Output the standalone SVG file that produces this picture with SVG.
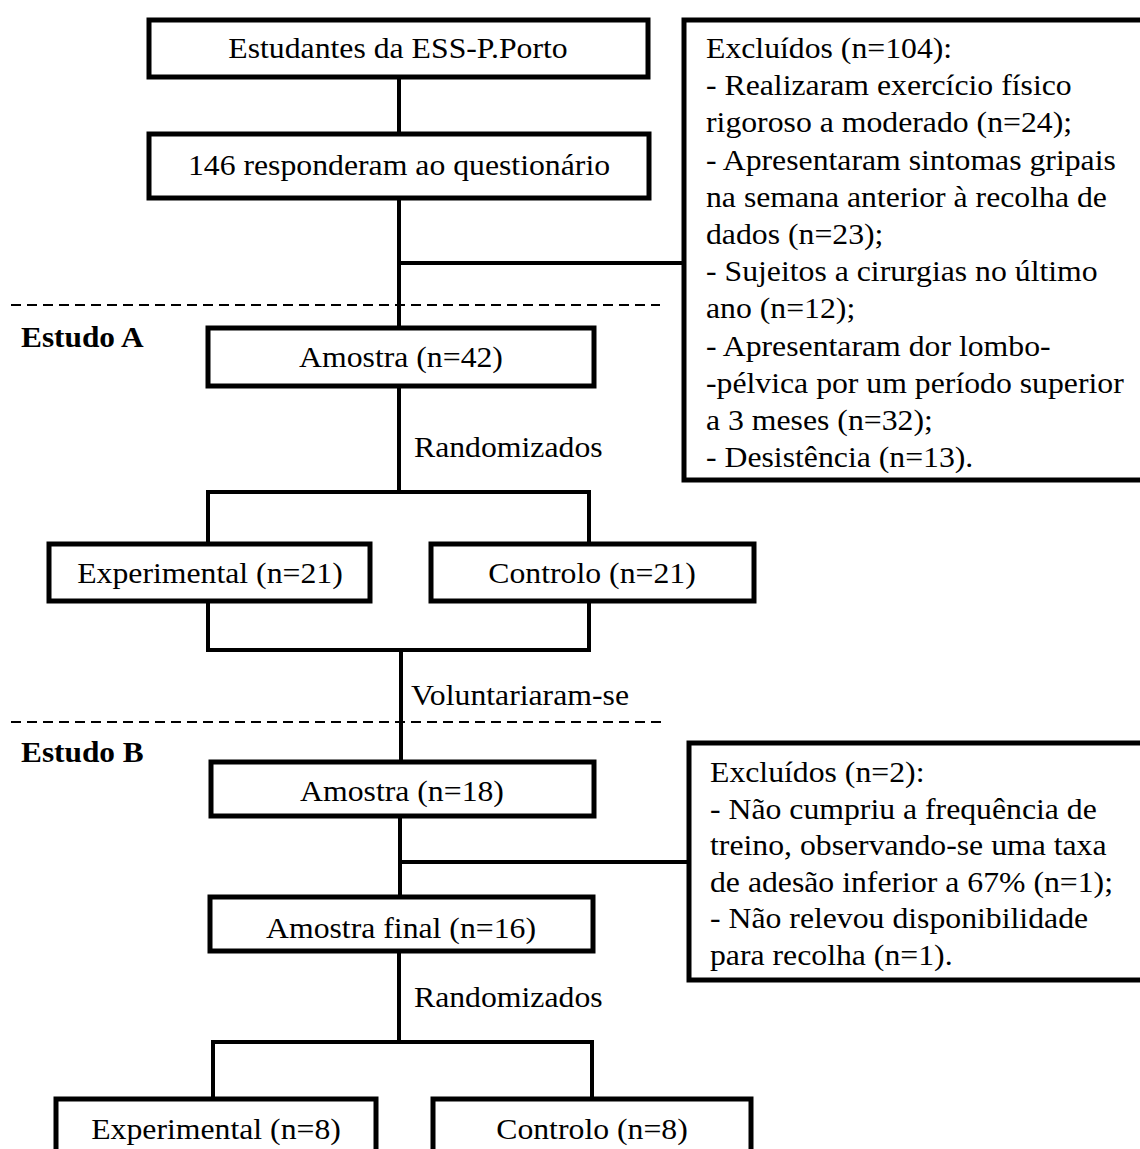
<svg xmlns="http://www.w3.org/2000/svg" width="1140" height="1149" viewBox="0 0 1140 1149">
<style>
.box{fill:#fff;stroke:#000;stroke-width:5}
.ln{fill:none;stroke:#000;stroke-width:4}
.dash{fill:none;stroke:#000;stroke-width:2;stroke-dasharray:10 6}
text{font-family:"Liberation Serif","Times New Roman",serif;font-size:29px;fill:#000}
.c{text-anchor:middle}
.b{font-weight:bold}
</style>
<rect width="1140" height="1149" fill="#fff"/>
<g id="separators">
<line class="dash" x1="11" y1="305" x2="660" y2="305"/>
<line class="dash" x1="11" y1="722" x2="664" y2="722"/>
<text class="b" transform="translate(21 347) scale(1.08 1)">Estudo A</text>
<text class="b" transform="translate(21 762) scale(1.08 1)">Estudo B</text>
</g>
<g id="connectors">
<path class="ln" d="M399 77V134M399 198V328M399 263H684"/>
<path class="ln" d="M399 388V492M208 492H589M208 490V544M589 490V544"/>
<path class="ln" d="M208 601V650H589V601M401 650V762"/>
<path class="ln" d="M400 816V897M400 862H689"/>
<path class="ln" d="M399 951V1042M213 1042H592M213 1040V1099M592 1040V1099"/>
<text transform="translate(414 457) scale(1.095 1)">Randomizados</text>
<text transform="translate(411 705) scale(1.095 1)">Voluntariaram-se</text>
<text transform="translate(414 1007) scale(1.095 1)">Randomizados</text>
</g>
<g id="n1"><rect class="box" x="149" y="20" width="499" height="57"/><text class="c" transform="translate(398 58) scale(1.095 1)">Estudantes da ESS-P.Porto</text></g>
<g id="n2"><rect class="box" x="149" y="134" width="500" height="64"/><text class="c" transform="translate(399 175) scale(1.095 1)">146 responderam ao questionário</text></g>
<g id="ex1"><rect class="box" x="684" y="20" width="480" height="460"/>
<text transform="translate(706 58) scale(1.095 1)"><tspan x="0" y="0">Excluídos (n=104):</tspan><tspan x="0" y="37.2">- Realizaram exercício físico</tspan><tspan x="0" y="74.4">rigoroso a moderado (n=24);</tspan><tspan x="0" y="111.6">- Apresentaram sintomas gripais</tspan><tspan x="0" y="148.8">na semana anterior à recolha de</tspan><tspan x="0" y="186">dados (n=23);</tspan><tspan x="0" y="223.2">- Sujeitos a cirurgias no último</tspan><tspan x="0" y="260.4">ano (n=12);</tspan><tspan x="0" y="297.6">- Apresentaram dor lombo-</tspan><tspan x="0" y="334.8">-pélvica por um período superior</tspan><tspan x="0" y="372">a 3 meses (n=32);</tspan><tspan x="0" y="409.2">- Desistência (n=13).</tspan></text></g>
<g id="n3"><rect class="box" x="208" y="328" width="386" height="58"/><text class="c" transform="translate(401 367) scale(1.095 1)">Amostra (n=42)</text></g>
<g id="n4"><rect class="box" x="49" y="544" width="321" height="57"/><text class="c" transform="translate(210 583) scale(1.095 1)">Experimental (n=21)</text></g>
<g id="n5"><rect class="box" x="431" y="544" width="323" height="57"/><text class="c" transform="translate(592 583) scale(1.095 1)">Controlo (n=21)</text></g>
<g id="n6"><rect class="box" x="211" y="762" width="383" height="54"/><text class="c" transform="translate(402 801) scale(1.095 1)">Amostra (n=18)</text></g>
<g id="ex2"><rect class="box" x="689" y="743" width="470" height="237"/>
<text transform="translate(710 782) scale(1.095 1)"><tspan x="0" y="0">Excluídos (n=2):</tspan><tspan x="0" y="36.6">- Não cumpriu a frequência de</tspan><tspan x="0" y="73.2">treino, observando-se uma taxa</tspan><tspan x="0" y="109.8">de adesão inferior a 67% (n=1);</tspan><tspan x="0" y="146.4">- Não relevou disponibilidade</tspan><tspan x="0" y="183">para recolha (n=1).</tspan></text></g>
<g id="n7"><rect class="box" x="210" y="897" width="383" height="54"/><text class="c" transform="translate(401 938) scale(1.095 1)">Amostra final (n=16)</text></g>
<g id="n8"><rect class="box" x="56" y="1099" width="320" height="80"/><text class="c" transform="translate(216 1139) scale(1.095 1)">Experimental (n=8)</text></g>
<g id="n9"><rect class="box" x="433" y="1099" width="318" height="80"/><text class="c" transform="translate(592 1139) scale(1.095 1)">Controlo (n=8)</text></g>
</svg>
